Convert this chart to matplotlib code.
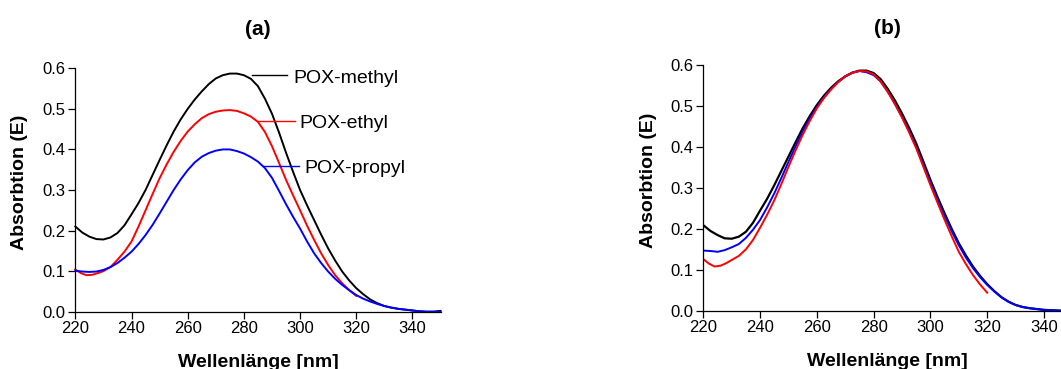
import matplotlib
matplotlib.use('Agg')
import matplotlib.pyplot as plt

plt.rcParams['font.family'] = ['Liberation Sans', 'DejaVu Sans']

# --- Spectra, panel (a): three polymers ---
wl_methyl_a = [220, 222.5, 225, 227.5, 230, 232.5, 235, 237.5, 240, 242.5, 245, 247.5, 250,
               252.5, 255, 257.5, 260, 262.5, 265, 267.5, 270, 272.5, 275, 277.5, 280, 282.5,
               285, 287.5, 290, 292.5, 295, 297.5, 300, 302.5, 305, 307.5, 310, 312.5, 315,
               317.5, 320, 322.5, 325, 327.5, 330, 332.5, 335, 337.5, 340, 342.5, 345, 347.5, 350]
abs_methyl_a = [0.210, 0.195, 0.185, 0.179, 0.178, 0.183, 0.194, 0.213, 0.240, 0.268, 0.300,
                0.337, 0.374, 0.410, 0.444, 0.474, 0.500, 0.523, 0.543, 0.561, 0.575, 0.583,
                0.587, 0.587, 0.583, 0.574, 0.556, 0.525, 0.488, 0.442, 0.392, 0.345, 0.300,
                0.262, 0.226, 0.190, 0.156, 0.126, 0.099, 0.077, 0.058, 0.043, 0.030, 0.021,
                0.014, 0.010, 0.007, 0.005, 0.003, 0.001, 0.000, 0.000, 0.002]

wl_ethyl_a = [220, 222, 224, 226, 228, 230, 232.5, 235, 237.5, 240, 242.5, 245, 247.5, 250,
              252.5, 255, 257.5, 260, 262.5, 265, 267.5, 270, 272.5, 275, 277.5, 280, 282.5,
              285, 287.5, 290, 292.5, 295, 297.5, 300, 302.5, 305, 307.5, 310, 312.5, 315,
              317.5, 320]
abs_ethyl_a = [0.104, 0.095, 0.090, 0.091, 0.095, 0.100, 0.110, 0.128, 0.148, 0.173, 0.210,
               0.250, 0.290, 0.329, 0.363, 0.394, 0.421, 0.444, 0.462, 0.477, 0.487, 0.493,
               0.496, 0.497, 0.495, 0.489, 0.481, 0.468, 0.443, 0.408, 0.367, 0.325, 0.287,
               0.250, 0.212, 0.177, 0.144, 0.115, 0.090, 0.070, 0.053, 0.039]

wl_propyl_a = [220, 222.5, 225, 227.5, 230, 232.5, 235, 237.5, 240, 242.5, 245, 247.5, 250,
               252.5, 255, 257.5, 260, 262.5, 265, 267.5, 270, 272.5, 275, 277.5, 280, 282.5,
               285, 287.5, 290, 292.5, 295, 297.5, 300, 302.5, 305, 307.5, 310, 312.5, 315,
               317.5, 320, 322.5, 325, 327.5, 330, 332.5, 335, 337.5, 340, 342.5, 345, 350]
abs_propyl_a = [0.101, 0.099, 0.098, 0.099, 0.103, 0.110, 0.120, 0.133, 0.148, 0.167, 0.189,
                0.214, 0.242, 0.271, 0.300, 0.326, 0.349, 0.368, 0.382, 0.391, 0.397, 0.400,
                0.400, 0.396, 0.390, 0.381, 0.370, 0.354, 0.330, 0.298, 0.265, 0.234, 0.205,
                0.173, 0.144, 0.120, 0.099, 0.081, 0.066, 0.053, 0.041, 0.032, 0.025, 0.019,
                0.014, 0.010, 0.007, 0.005, 0.003, 0.001, 0.000, 0.000]

# --- Spectra, panel (b): scaled to the same maximum ---
wl_methyl_b = [220, 222.5, 225, 227.5, 230, 232.5, 235, 237.5, 240, 242.5, 245, 247.5, 250,
               252.5, 255, 257.5, 260, 262.5, 265, 267.5, 270, 272.5, 275, 277.5, 280, 282.5,
               285, 287.5, 290, 292.5, 295, 297.5, 300, 302.5, 305, 307.5, 310, 312.5, 315,
               317.5, 320, 322.5, 325, 327.5, 330, 332.5, 335, 337.5, 340, 343, 346, 350]
abs_methyl_b = [0.209, 0.195, 0.185, 0.177, 0.176, 0.181, 0.193, 0.215, 0.245, 0.274, 0.307,
                0.342, 0.377, 0.412, 0.446, 0.476, 0.503, 0.526, 0.545, 0.561, 0.573, 0.582,
                0.587, 0.587, 0.581, 0.566, 0.542, 0.514, 0.482, 0.447, 0.409, 0.365, 0.320,
                0.278, 0.238, 0.200, 0.165, 0.135, 0.108, 0.085, 0.065, 0.048, 0.033, 0.022,
                0.014, 0.009, 0.006, 0.004, 0.002, 0.001, 0.000, 0.000]

wl_propyl_b = [220, 222.5, 225, 227.5, 230, 232.5, 235, 237.5, 240, 242.5, 245, 247.5, 250,
               252.5, 255, 257.5, 260, 262.5, 265, 267.5, 270, 272.5, 275, 277.5, 280, 282.5,
               285, 287.5, 290, 292.5, 295, 297.5, 300, 302.5, 305, 307.5, 310, 312.5, 315,
               317.5, 320, 322.5, 325, 327.5, 330, 332.5, 335, 337.5, 340, 343, 346, 350]
abs_propyl_b = [0.147, 0.146, 0.144, 0.148, 0.155, 0.163, 0.178, 0.198, 0.222, 0.253, 0.287,
                0.325, 0.364, 0.402, 0.438, 0.470, 0.498, 0.522, 0.542, 0.559, 0.573, 0.582,
                0.586, 0.583, 0.576, 0.560, 0.535, 0.506, 0.474, 0.439, 0.400, 0.357, 0.313,
                0.271, 0.231, 0.194, 0.160, 0.130, 0.104, 0.082, 0.063, 0.047, 0.033, 0.022,
                0.014, 0.009, 0.006, 0.004, 0.002, 0.001, 0.000, 0.000]

wl_ethyl_b = [220, 222, 224, 226, 228, 230, 232.5, 235, 237.5, 240, 242.5, 245, 247.5, 250,
              252.5, 255, 257.5, 260, 262.5, 265, 267.5, 270, 272.5, 275, 277.5, 280, 282.5,
              285, 287.5, 290, 292.5, 295, 297.5, 300, 302.5, 305, 307.5, 310, 312.5, 315,
              317.5, 320]
abs_ethyl_b = [0.126, 0.115, 0.108, 0.110, 0.116, 0.124, 0.134, 0.150, 0.173, 0.203, 0.235,
               0.270, 0.310, 0.352, 0.392, 0.430, 0.464, 0.495, 0.520, 0.541, 0.559, 0.573,
               0.582, 0.586, 0.585, 0.578, 0.560, 0.535, 0.505, 0.472, 0.436, 0.397, 0.352,
               0.307, 0.264, 0.222, 0.182, 0.144, 0.114, 0.087, 0.064, 0.044]

series_labels = ['POX-methyl', 'POX-ethyl', 'POX-propyl']
series_colors = ['black', 'red', 'blue']

x_ticks = [220, 240, 260, 280, 300, 320, 340]
y_ticks = [0.0, 0.1, 0.2, 0.3, 0.4, 0.5, 0.6]

# label lines in (a): (x start, x end, y line, x text, y text baseline)
label_pos = [(282.8, 295.5, 0.583, 297.6, 0.5645),
             (285.1, 298.2, 0.470, 299.8, 0.452),
             (286.9, 299.7, 0.359, 301.4, 0.341)]


def style_axes(ax, ylabel_x, ylabel_y):
    ax.set_xlim(220, 350)
    ax.set_ylim(0, 0.6)
    ax.set_xticks(x_ticks)
    ax.set_yticks(y_ticks)
    ax.set_yticklabels([f'{v:.1f}' for v in y_ticks])
    for side in ['top', 'right']:
        ax.spines[side].set_visible(False)
    for side in ['left', 'bottom']:
        ax.spines[side].set_linewidth(0.9)
    ax.tick_params(direction='out', length=5, width=0.9, labelsize=12, pad=2)
    ax.set_xlabel('Wellenlänge [nm]', fontsize=14, fontweight='bold', labelpad=12.5)
    ax.set_ylabel('Absorbtion (E)', fontsize=14, fontweight='bold')
    ax.yaxis.set_label_coords(ylabel_x, ylabel_y)


fig = plt.figure(figsize=(10.61, 3.69), dpi=100)
ax_a = fig.add_axes([0.071, 0.1553, 0.3442, 0.6596])
ax_b = fig.add_axes([0.6629, 0.158, 0.3478, 0.665])

# panel (a)
curves_a = [(wl_methyl_a, abs_methyl_a), (wl_ethyl_a, abs_ethyl_a), (wl_propyl_a, abs_propyl_a)]
for (wl, ab), col in zip(curves_a, series_colors):
    ax_a.plot(wl, ab, color=col, lw=1.4, clip_on=False)
for (x0, x1, yl, xt, yt), lab, col in zip(label_pos, series_labels, series_colors):
    ax_a.plot([x0, x1], [yl, yl], color=col, lw=1.0)
    ax_a.text(xt, yt, lab, fontsize=14, va='baseline', ha='left')
style_axes(ax_a, -0.1295, 0.533)
ax_a.text(0.5, 1.16, '(a)', transform=ax_a.transAxes, ha='center', va='center',
          fontsize=15, fontweight='bold')

# panel (b)
ax_b.plot(wl_methyl_b, abs_methyl_b, color='black', lw=1.6)
ax_b.plot(wl_propyl_b, abs_propyl_b, color='blue', lw=1.4)
ax_b.plot(wl_ethyl_b, abs_ethyl_b, color='red', lw=1.4)
style_axes(ax_b, -0.1255, 0.53)
ax_b.text(0.5, 1.148, '(b)', transform=ax_b.transAxes, ha='center', va='center',
          fontsize=15, fontweight='bold')

fig.savefig('out.png', dpi=100)
